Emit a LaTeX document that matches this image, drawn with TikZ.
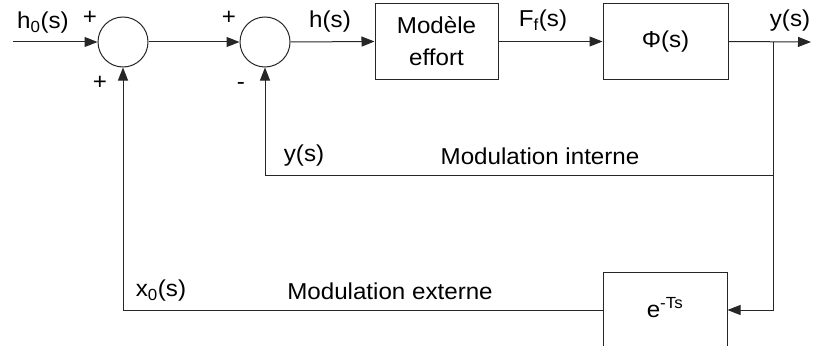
\documentclass[tikz,border=0pt]{standalone}
\usepackage{fontspec}
\setmainfont{Liberation Sans}
\usepackage{graphicx}
\usetikzlibrary{arrows.meta}
\newcommand{\sx}[1]{\scalebox{1.05}[1]{#1}}
\begin{document}
\begin{tikzpicture}[x=1pt,y=-1pt,
  line/.style={line width=1pt, draw=black!85},
  arr/.style={line, -{Triangle[length=13pt,width=10pt]}},
  sumnode/.style={circle, draw=black!85, line width=1pt, minimum size=50pt, inner sep=0pt},
  blockbox/.style={draw=black!85, line width=1pt, minimum width=123pt, minimum height=75pt, inner sep=0pt, align=center, font=\fontsize{23}{32}\selectfont},
  lbl/.style={inner sep=0pt, font=\fontsize{23}{26}\selectfont}]
\useasboundingbox (0,0) rectangle (813,345);

% nodes
\node[sumnode] (s1) at (123,42) {};
\node[sumnode] (s2) at (265,42) {};
\node[blockbox] (me) at (436.5,41.5) {\sx{Modèle}\\\sx{effort}};
\node[blockbox, minimum width=125pt] (phi) at (665.5,41.5) {\sx{Φ(s)}};
\node[blockbox, minimum width=124pt, minimum height=76pt] (del) at (665,310) {\raisebox{6pt}{\sx{e\textsuperscript{-Ts}}}};

\coordinate (in) at (13,42);
\coordinate (out) at (811,42);
\coordinate (br) at (773,42);
\coordinate (c1) at (773,175);
\coordinate (c2) at (265,175);
\coordinate (c3) at (773,310);
\coordinate (c4) at (123,310);

% connectors
\draw[arr] (in) -- (s1.west);
\draw[arr] (s1.east) -- (s2.west);
\draw[arr] (s2.east) -- (me.west);
\draw[arr] (me.east) -- (phi.west);
\draw[arr] (phi.east) -- (out);
\draw[arr] (br) -- (c1) -- (c2) -- (s2.south);
\draw[arr] (br) -- (c3) -- (del.east);
\draw[arr] (del.west) -- (c4) -- (s1.south);

% labels
\node[lbl] (lh0) at (43,23) {\sx{h\textsubscript{0}(s)}};
\node[lbl] (p1) at (90,18) {\sx{+}};
\node[lbl] (p2) at (100,83) {\sx{+}};
\node[lbl] (p3) at (229,18) {\sx{+}};
\node[lbl] (m1) at (241,86) {\sx{-}};
\node[lbl] (lh) at (330,22) {\sx{h(s)}};
\node[lbl] (lff) at (543,21) {\sx{F\textsubscript{f}(s)}};
\node[lbl] (ly) at (790,21) {\sx{y(s)}};
\node[lbl] (ly2) at (304,156) {\sx{y(s)}};
\node[lbl] (lmi) at (540,156) {\sx{Modulation interne}};
\node[lbl] (lx0) at (161,291) {\sx{x\textsubscript{0}(s)}};
\node[lbl] (lme) at (390,291) {\sx{Modulation externe}};
\end{tikzpicture}
\end{document}
